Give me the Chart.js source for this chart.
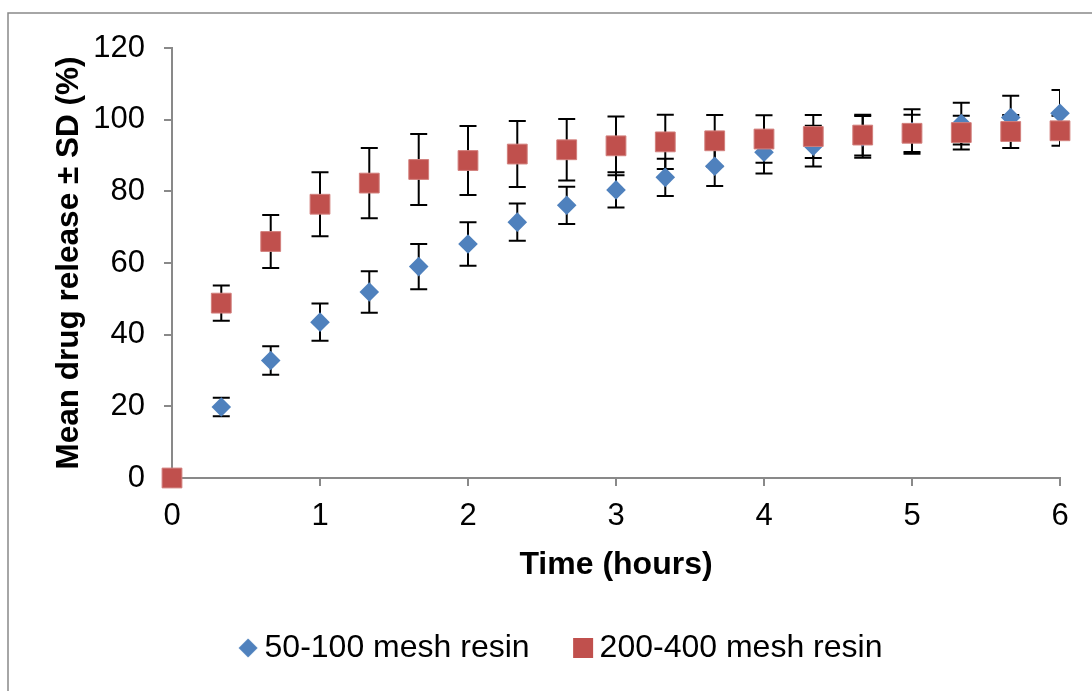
<!DOCTYPE html>
<html>
<head>
<meta charset="utf-8">
<script src="https://cdn.jsdelivr.net/npm/chart.js@4"></script>
<style>
  html, body { margin: 0; padding: 0; background: #fff; overflow: hidden; }
  #wrap { width: 1092px; height: 691px; }
</style>
</head>
<body>
<div id="wrap"><canvas id="releaseChart" width="1092" height="691"></canvas></div>
<script>
// time points (hours)
const timeHours = [0, 0.333, 0.667, 1, 1.333, 1.667, 2, 2.333, 2.667, 3, 3.333, 3.667, 4, 4.333, 4.667, 5, 5.333, 5.667, 6];

// 50-100 mesh resin
const coarseMean = [0, 19.8, 32.8, 43.5, 51.9, 59.0, 65.3, 71.4, 76.1, 80.4, 83.9, 87.0, 90.9, 92.6, 95.2, 96.7, 98.9, 100.6, 101.8];
const coarseSD = [0, 2.6, 4.0, 5.2, 5.8, 6.3, 6.1, 5.2, 5.2, 4.9, 5.2, 5.5, 5.9, 5.7, 5.8, 6.2, 5.8, 6.1, 6.5];

// 200-400 mesh resin
const fineMean = [0, 48.8, 66.0, 76.4, 82.3, 86.1, 88.6, 90.4, 91.6, 92.7, 93.8, 94.1, 94.6, 95.3, 95.7, 96.2, 96.4, 96.7, 96.9];
const fineSD = [0, 4.9, 7.4, 8.9, 9.8, 9.9, 9.6, 9.2, 8.6, 8.2, 7.6, 7.2, 6.6, 6.0, 5.7, 5.2, 4.7, 4.6, 4.2];

const seriesNames = ["50-100 mesh resin", "200-400 mesh resin"];
const xTicks = [0, 1, 2, 3, 4, 5, 6];
const yTicks = [0, 20, 40, 60, 80, 100, 120];

const FONT = "'Liberation Sans', Arial, sans-serif";
const AXIS_GREY = "#898989";
Chart.defaults.color = "#000";
Chart.defaults.font.family = FONT;

function toPoints(means) {
  return timeHours.map((t, i) => ({ x: t, y: means[i] }));
}

// error bars, drawn under all markers
const errorBars = {
  id: "errorBars",
  beforeDatasetsDraw(chart) {
    const { ctx, chartArea, scales } = chart;
    ctx.save();
    ctx.beginPath();
    ctx.rect(chartArea.left, chartArea.top, chartArea.right - chartArea.left, chartArea.bottom - chartArea.top);
    ctx.clip();
    ctx.strokeStyle = "#000";
    ctx.lineWidth = 2;
    chart.data.datasets.forEach((ds, di) => {
      const meta = chart.getDatasetMeta(di);
      meta.data.forEach((pt, i) => {
        const sd = ds.sd[i];
        if (!sd) return;
        const m = ds.data[i].y;
        const yTop = scales.y.getPixelForValue(m + sd);
        const yBot = scales.y.getPixelForValue(m - sd);
        const x = pt.x;
        ctx.beginPath();
        ctx.moveTo(x, yTop); ctx.lineTo(x, yBot);
        ctx.moveTo(x - 8.5, yTop); ctx.lineTo(x + 8.5, yTop);
        ctx.moveTo(x - 8.5, yBot); ctx.lineTo(x + 8.5, yBot);
        ctx.stroke();
      });
    });
    ctx.restore();
  }
};

// chart area frame (left and top edges visible in the crop)
const outerFrame = {
  id: "outerFrame",
  beforeDraw(chart) {
    const { ctx, width, height } = chart;
    ctx.save();
    ctx.strokeStyle = AXIS_GREY;
    ctx.lineWidth = 1.5;
    ctx.beginPath();
    ctx.moveTo(8, height);
    ctx.lineTo(8, 13);
    ctx.lineTo(width, 13);
    ctx.stroke();
    ctx.restore();
  }
};

// legend is centred on the uncropped original, so nudge it
const legendShift = {
  id: "legendShift",
  afterLayout(chart) {
    const lg = chart.legend;
    const dx = 35;
    const dy = 648 - (lg.top + lg.options.labels.padding + 16);
    lg.left += dx; lg.right += dx;
    lg.top += dy; lg.bottom += dy;
  }
};

function legendIcon(style, color) {
  const c = document.createElement("canvas");
  c.width = 22; c.height = 22;
  const g = c.getContext("2d");
  g.fillStyle = color;
  if (style === "diamond") {
    g.beginPath();
    g.moveTo(11, 1.5); g.lineTo(20.5, 11); g.lineTo(11, 20.5); g.lineTo(1.5, 11);
    g.closePath(); g.fill();
  } else {
    g.fillRect(1, 1, 20, 20);
  }
  return c;
}
const legendIcons = [legendIcon("diamond", "#4F81BD"), legendIcon("square", "#C0504D")];

const ctx = document.getElementById("releaseChart");

new Chart(ctx, {
  type: "scatter",
  data: {
    datasets: [
      {
        label: seriesNames[0],
        data: toPoints(coarseMean),
        sd: coarseSD,
        order: 2,
        pointStyle: "rectRot",
        pointRadius: 9.8,
        backgroundColor: "#4F81BD",
        borderColor: "#4F81BD",
        borderWidth: 0,
        clip: false,
      },
      {
        label: seriesNames[1],
        data: toPoints(fineMean),
        sd: fineSD,
        order: 1,
        pointStyle: "rect",
        pointRadius: 14,
        backgroundColor: "#C0504D",
        borderColor: "#D27F7C",
        borderWidth: 1,
        clip: false,
      },
    ],
  },
  options: {
    responsive: false,
    animation: false,
    events: [],
    layout: { padding: { top: 48, right: 32, bottom: 0, left: 0 } },
    plugins: {
      tooltip: { enabled: false },
      legend: {
        position: "bottom",
        labels: {
          usePointStyle: true,
          pointStyleWidth: 1,
          padding: 53,
          color: "#000",
          font: { size: 32, family: FONT },
          sort: (a, b) => a.datasetIndex - b.datasetIndex,
          generateLabels(chart) {
            const items = Chart.defaults.plugins.legend.labels.generateLabels(chart);
            items.forEach(it => { it.pointStyle = legendIcons[it.datasetIndex]; });
            return items;
          },
        },
      },
    },
    scales: {
      x: {
        type: "linear",
        min: 0,
        max: 6,
        afterBuildTicks(scale) { scale.ticks = xTicks.map(v => ({ value: v })); },
        afterFit(scale) { scale.height = 118; },
        ticks: { padding: 12, font: { size: 31 }, color: "#000" },
        grid: { drawOnChartArea: false, drawTicks: true, tickLength: 8, color: AXIS_GREY, lineWidth: 2 },
        border: { color: AXIS_GREY, width: 2 },
        title: {
          display: true,
          text: "Time (hours)",
          font: { size: 32, weight: "bold" },
          color: "#000",
          padding: { top: 0, bottom: 12 },
        },
      },
      y: {
        min: 0,
        max: 120,
        afterBuildTicks(scale) { scale.ticks = yTicks.map(v => ({ value: v })); },
        afterFit(scale) { scale.width = 172; },
        ticks: { padding: 19, font: { size: 31 }, color: "#000" },
        grid: { drawOnChartArea: false, drawTicks: true, tickLength: 8, color: AXIS_GREY, lineWidth: 2 },
        border: { color: AXIS_GREY, width: 2 },
        title: {
          display: true,
          text: "Mean drug release ± SD (%)",
          font: { size: 31.5, weight: "bold" },
          color: "#000",
          padding: { top: 50, bottom: 0 },
        },
      },
    },
  },
  plugins: [outerFrame, errorBars, legendShift],
});
</script>
</body>
</html>
